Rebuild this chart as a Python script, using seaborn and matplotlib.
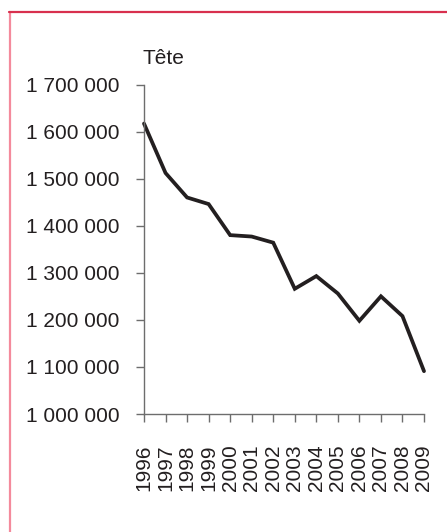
import matplotlib
matplotlib.use("Agg")
import matplotlib.pyplot as plt
from matplotlib.lines import Line2D
import seaborn as sns
import pandas as pd

years = [1996, 1997, 1998, 1999, 2000, 2001, 2002, 2003, 2004, 2005, 2006, 2007, 2008, 2009]
heads = [1617000, 1512000, 1460000, 1446000, 1380000, 1377000, 1364000,
         1266000, 1293000, 1256000, 1198000, 1250000, 1208000, 1091000]
y_ticks = [1000000, 1100000, 1200000, 1300000, 1400000, 1500000, 1600000, 1700000]
y_label = "Tête"

sns.set_theme(style="white")
plt.rcParams["font.family"] = ["Liberation Sans", "DejaVu Sans"]

W, H = 447, 532
fig = plt.figure(figsize=(W / 100, H / 100), dpi=100)
ax = fig.add_axes([144 / W, 1 - 414 / H, (424 - 144) / W, (414 - 84.5) / H])

df = pd.DataFrame({"year": years, "heads": heads})
sns.lineplot(data=df, x="year", y="heads", ax=ax, color="#231F20", linewidth=2.7)
for line in ax.lines:
    line.set_clip_on(False)
    line.set_solid_joinstyle("miter")

text_color = "#231F20"
axis_color = "#6d6d6d"
fs = 15

ax.set_xlim(years[0], years[-1])
ax.set_ylim(y_ticks[0], y_ticks[-1])
ax.set_xticks(years)
ax.set_xticklabels([str(y) for y in years], rotation=90, fontsize=fs, color=text_color)
ax.set_yticks(y_ticks)
ax.set_yticklabels([f"{v:,}".replace(",", " ") for v in y_ticks], fontsize=fs, color=text_color)
ax.set_xlabel("")
ax.set_ylabel("")

for s in ["top", "right"]:
    ax.spines[s].set_visible(False)
for s in ["left", "bottom"]:
    ax.spines[s].set_color(axis_color)
    ax.spines[s].set_linewidth(1.0)

ax.tick_params(axis="both", direction="out", length=6, width=1.0, color=axis_color,
               bottom=True, left=True)
ax.tick_params(axis="y", pad=11.5)
ax.tick_params(axis="x", pad=16)

fig.text(163 / W, 1 - 64 / H, y_label, ha="center", va="baseline",
         fontsize=fs, color=text_color)

# frame lines around the panel
fig.add_artist(Line2D([9.5 / W, 9.5 / W], [0, 1 - 12 / H], transform=fig.transFigure,
                      color="#F48A9C", linewidth=1.6))
fig.add_artist(Line2D([9 / W, 1], [1 - 12 / H, 1 - 12 / H], transform=fig.transFigure,
                      color="#D8304E", linewidth=1.6))

fig.savefig("out.png", dpi=100, facecolor="white")
